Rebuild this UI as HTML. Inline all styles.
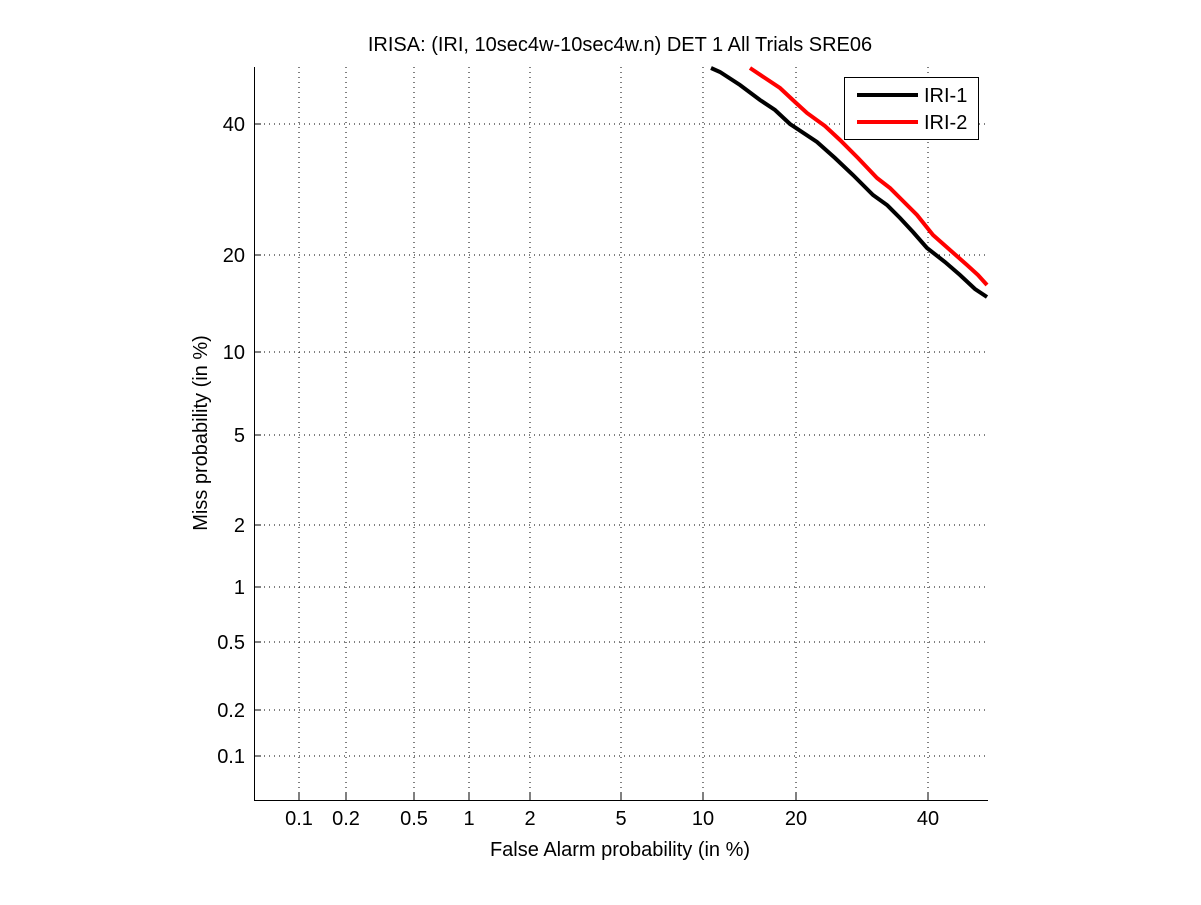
<!DOCTYPE html>
<html><head><style>body{margin:0;background:#fff}</style></head><body>
<svg width="1201" height="900" xmlns="http://www.w3.org/2000/svg" font-family="Liberation Sans, sans-serif" font-size="20">
<rect width="1201" height="900" fill="#fff"/>
<g stroke="#000" stroke-width="1" stroke-dasharray="1,4">
<line x1="299" y1="67" x2="299" y2="800"/><line x1="346" y1="67" x2="346" y2="800"/><line x1="414" y1="67" x2="414" y2="800"/><line x1="469" y1="67" x2="469" y2="800"/><line x1="530" y1="67" x2="530" y2="800"/><line x1="621" y1="67" x2="621" y2="800"/><line x1="703" y1="67" x2="703" y2="800"/><line x1="796" y1="67" x2="796" y2="800"/><line x1="928" y1="67" x2="928" y2="800"/>
<line x1="254" y1="124" x2="988" y2="124"/><line x1="254" y1="255" x2="988" y2="255"/><line x1="254" y1="352" x2="988" y2="352"/><line x1="254" y1="435" x2="988" y2="435"/><line x1="254" y1="525" x2="988" y2="525"/><line x1="254" y1="587" x2="988" y2="587"/><line x1="254" y1="642" x2="988" y2="642"/><line x1="254" y1="710" x2="988" y2="710"/><line x1="254" y1="756" x2="988" y2="756"/>
</g>
<g stroke="#000" stroke-width="1">
<line x1="254.5" y1="67" x2="254.5" y2="801"/><line x1="254" y1="800.5" x2="988" y2="800.5"/>
<path d="M299 800v-7M346 800v-7M414 800v-7M469 800v-7M530 800v-7M621 800v-7M703 800v-7M796 800v-7M928 800v-7M254 124h7M254 255h7M254 352h7M254 435h7M254 525h7M254 587h7M254 642h7M254 710h7M254 756h7"/>
</g>
<g text-anchor="middle">
<text x="299" y="825">0.1</text><text x="346" y="825">0.2</text><text x="414" y="825">0.5</text><text x="469" y="825">1</text><text x="530" y="825">2</text><text x="621" y="825">5</text><text x="703" y="825">10</text><text x="796" y="825">20</text><text x="928" y="825">40</text>
</g>
<g text-anchor="end">
<text x="245" y="131">40</text><text x="245" y="262">20</text><text x="245" y="359">10</text><text x="245" y="442">5</text><text x="245" y="532">2</text><text x="245" y="594">1</text><text x="245" y="649">0.5</text><text x="245" y="717">0.2</text><text x="245" y="763">0.1</text>
</g>
<text x="620" y="856" text-anchor="middle">False Alarm probability (in %)</text>
<text transform="translate(207,433) rotate(-90)" text-anchor="middle">Miss probability (in %)</text>
<text x="620" y="51" text-anchor="middle">IRISA: (IRI, 10sec4w-10sec4w.n) DET 1 All Trials SRE06</text>
<polyline fill="none" stroke="#000" stroke-width="4" points="711,68 720,72 740,85 760,100 775,110 790,124 817,142 835,158 853,175 873,195 887,205 900,218 913,232 927,248 945,262 960,275 975,289 987,297"/>
<polyline fill="none" stroke="#f00" stroke-width="4" points="750,68 765,78 780,88 795,102 807,113 825,126 840,140 858,158 877,178 890,188 900,198 917,215 933,235 950,250 967,265 978,275 987,285"/>
<rect x="844.5" y="77.5" width="134" height="62" fill="#fff" stroke="#000"/>
<line x1="857" y1="95" x2="918" y2="95" stroke="#000" stroke-width="4"/>
<line x1="857" y1="122" x2="918" y2="122" stroke="#f00" stroke-width="4"/>
<text x="924" y="102">IRI-1</text><text x="924" y="129">IRI-2</text>
</svg>
</body></html>
